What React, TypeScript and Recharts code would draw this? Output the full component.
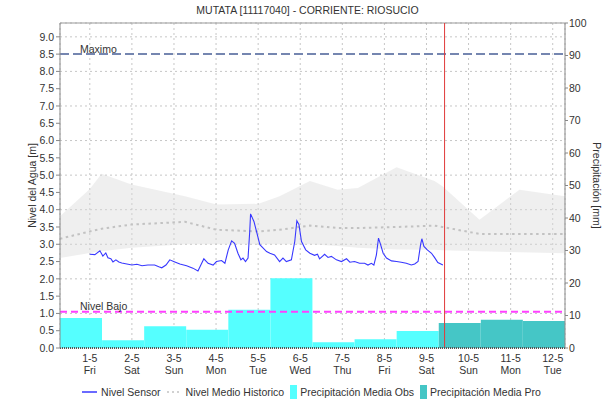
import React from "react";
import {
  ComposedChart,
  Area,
  Line,
  Bar,
  XAxis,
  YAxis,
  CartesianGrid,
  ReferenceLine,
  Legend,
} from "recharts";

const FONT = '"Liberation Sans", Arial, sans-serif';
const TXT = "#333";

// eje de tiempo en dias desde 1-5 00:00 (ventana 30-4 07:00 -> 12-5 07:00)
const T_START = -17 / 24;
const T_END = 11 + 7 / 24;
const AHORA = 8.43;

const dayTicks = [0, 1, 2, 3, 4, 5, 6, 7, 8, 9, 10, 11];
const dayLabels = ["1-5", "2-5", "3-5", "4-5", "5-5", "6-5", "7-5", "8-5", "9-5", "10-5", "11-5", "12-5"];
const weekDays = ["Fri", "Sat", "Sun", "Mon", "Tue", "Wed", "Thu", "Fri", "Sat", "Sun", "Mon", "Tue"];

const levelTicks = [0, 0.5, 1, 1.5, 2, 2.5, 3, 3.5, 4, 4.5, 5, 5.5, 6, 6.5, 7, 7.5, 8, 8.5, 9];
const rainTicks = [0, 10, 20, 30, 40, 50, 60, 70, 80, 90, 100];

const NIVEL_MAXIMO = 8.5;
const NIVEL_BAJO = 1.05;

// precipitacion diaria (mm)
const rainDays = ["30-4", "1-5", "2-5", "3-5", "4-5", "5-5", "6-5", "7-5", "8-5", "9-5", "10-5", "11-5"];
const rainObs = [9.2, 2.4, 6.7, 5.6, 11.8, 21.5, 1.8, 2.7, 5.2, null, null, null];
const rainPro = [null, null, null, null, null, null, null, null, null, 7.7, 8.7, 8.3];

// nivel sensor (m)
const sensorT = [
  0.0, 0.12, 0.24, 0.31, 0.38, 0.43, 0.5, 0.55, 0.62, 0.69, 0.76, 0.88, 1.0, 1.12, 1.24, 1.38,
  1.54, 1.64, 1.71, 1.81, 1.9, 2.02, 2.14, 2.3, 2.45, 2.57, 2.71, 2.81, 2.93, 3.01, 3.13, 3.21,
  3.29, 3.37, 3.44, 3.52, 3.59, 3.64, 3.7, 3.76, 3.8, 3.82, 3.9, 3.97, 4.04, 4.12, 4.2, 4.28,
  4.39, 4.51, 4.59, 4.67, 4.79, 4.87, 4.92, 4.97, 5.03, 5.13, 5.23, 5.34, 5.41, 5.46, 5.58, 5.66,
  5.74, 5.86, 5.98, 6.1, 6.18, 6.29, 6.41, 6.53, 6.61, 6.69, 6.75, 6.81, 6.86, 6.91, 6.97, 7.05,
  7.17, 7.29, 7.4, 7.52, 7.64, 7.72, 7.8, 7.86, 7.89, 7.94, 8.02, 8.12, 8.19, 8.27, 8.39,
];
const sensorLevel = [
  2.71, 2.7, 2.81, 2.66, 2.75, 2.61, 2.58, 2.49, 2.55, 2.49, 2.46, 2.43, 2.4, 2.42, 2.38, 2.4,
  2.4, 2.35, 2.32, 2.4, 2.55, 2.49, 2.43, 2.38, 2.31, 2.23, 2.58, 2.45, 2.4, 2.5, 2.53, 2.45,
  2.84, 3.1, 3.03, 2.74, 2.55, 2.6, 2.5, 2.6, 3.37, 3.88, 3.66, 3.33, 2.99, 2.89, 2.79, 2.74,
  2.69, 2.5, 2.6, 2.5, 2.55, 3.08, 3.68, 3.57, 3.08, 2.84, 2.74, 2.68, 2.71, 2.58, 2.71, 2.62,
  2.65, 2.55, 2.5, 2.58, 2.48, 2.5, 2.45, 2.45, 2.4, 2.45, 2.4, 2.69, 3.18, 2.99, 2.74, 2.6,
  2.52, 2.5, 2.48, 2.45, 2.4, 2.43, 2.5, 2.99, 3.16, 2.94, 2.84, 2.74, 2.62, 2.47, 2.4,
];

// historico: rango y medio (m)
const histT = [-0.71, 0.0, 0.28, 0.99, 2.26, 3.01, 4.01, 4.51, 5.23, 5.89, 6.37, 7.29, 8.19, 8.38, 9.26, 10.21, 11.29];
const histLow = [2.6, 2.75, 2.8, 2.9, 3.0, 3.0, 3.0, 3.0, 3.0, 2.95, 2.9, 2.85, 2.84, 2.83, 2.8, 2.77, 2.74];
const histHigh = [3.81, 4.6, 5.04, 4.73, 4.39, 4.15, 4.17, 4.39, 4.83, 4.58, 4.63, 5.23, 4.83, 4.68, 3.71, 4.58, 4.39];
const histMean = [3.16, 3.37, 3.45, 3.57, 3.65, 3.42, 3.37, 3.42, 3.54, 3.47, 3.47, 3.5, 3.54, 3.5, 3.3, 3.3, 3.3];

const rainData = rainDays.map((d, i) => ({ d, obs: rainObs[i], pro: rainPro[i] }));
const sensorData = sensorT.map((t, i) => ({ t, v: sensorLevel[i] }));
const histData = histT.map((t, i) => ({ t, range: [histLow[i], histHigh[i]], mean: histMean[i] }));

const COL_SENSOR = "#3838ff";
const COL_MEDIO = "#c2c2c2";
const COL_OBS = "#55ffff";
const COL_PRO = "#45c6c6";

function DayTick(props: any) {
  const { x, y, payload } = props;
  const i = payload.value;
  return (
    <text x={x} y={y} textAnchor="middle" fontSize={10.5} fill={TXT}>
      <tspan x={x} dy={8.5}>{dayLabels[i]}</tspan>
      <tspan x={x} dy={12.5}>{weekDays[i]}</tspan>
    </text>
  );
}

function AxisTitle(props: any) {
  const { viewBox, text, side } = props;
  const vb = viewBox || {};
  const cy = (vb.y ?? 23) + (vb.height ?? 325) / 2;
  const cx = side === "left" ? 32 : 597;
  return (
    <text
      x={cx}
      y={cy}
      textAnchor="middle"
      dominantBaseline="central"
      fontSize={10.5}
      fill={TXT}
      transform={`rotate(${side === "left" ? -90 : 90} ${cx} ${cy})`}
    >
      {text}
    </text>
  );
}

function LineLabel(props: any) {
  const { viewBox, text } = props;
  const vb = viewBox || {};
  return (
    <text x={(vb.x ?? 60) + 20} y={(vb.y ?? 0) - 1.5} fontSize={10.5} fill={TXT}>
      {text}
    </text>
  );
}

function LegendBox() {
  const item = { display: "flex", alignItems: "center", marginRight: 6 } as const;
  return (
    <div
      style={{
        height: 16,
        lineHeight: "16px",
        display: "flex",
        justifyContent: "center",
        fontSize: 10.5,
        color: TXT,
        fontFamily: FONT,
        paddingLeft: 14,
      }}
    >
      <span style={item}>
        <svg width={15} height={4} style={{ marginRight: 4 }}>
          <line x1={0} y1={2} x2={15} y2={2} stroke={COL_SENSOR} strokeWidth={1.5} />
        </svg>
        Nivel Sensor
      </span>
      <span style={item}>
        <svg width={15} height={4} style={{ marginRight: 4 }}>
          <line x1={0} y1={2} x2={15} y2={2} stroke={COL_MEDIO} strokeWidth={1.5} strokeDasharray="2 3" />
        </svg>
        Nivel Medio Historico
      </span>
      <span style={item}>
        <span style={{ width: 7, height: 14, background: COL_OBS, marginRight: 3 }} />
        Precipitación Media Obs
      </span>
      <span style={item}>
        <span style={{ width: 7, height: 14, background: COL_PRO, marginRight: 3 }} />
        Precipitación Media Pro
      </span>
    </div>
  );
}

export default function App() {
  return (
    <div style={{ position: "relative", width: 615, height: 401, fontFamily: FONT, background: "#fff" }}>
      <style>{"body{margin:0}"}</style>
      <div
        style={{
          position: "absolute",
          top: 4,
          left: 0,
          width: 615,
          textAlign: "center",
          fontSize: 10.5,
          color: TXT,
        }}
      >
        MUTATA [11117040] - CORRIENTE: RIOSUCIO
      </div>
      <ComposedChart
        width={615}
        height={401}
        data={rainData}
        margin={{ top: 23, right: 0, bottom: 1, left: 0 }}
        barCategoryGap={0}
        barGap={0}
      >
        <CartesianGrid xAxisId="time" yAxisId="left" stroke="#c6c6c6" strokeDasharray="2 3" />
        <XAxis
          xAxisId="time"
          dataKey="t"
          type="number"
          domain={[T_START, T_END]}
          allowDataOverflow
          ticks={dayTicks}
          tick={<DayTick />}
          tickLine={false}
          tickSize={3}
          tickMargin={2}
          height={36}
          axisLine={{ stroke: "#555", strokeWidth: 2, strokeDasharray: "1 1" }}
        />
        <XAxis xAxisId="bars" dataKey="d" type="category" hide height={0} />
        <YAxis
          yAxisId="left"
          domain={[0, 9.4]}
          ticks={levelTicks}
          tickFormatter={(v: number) => v.toFixed(1)}
          width={60}
          tickSize={4}
          tickMargin={2}
          tick={{ fontSize: 10.5, fill: TXT }}
          stroke="#888"
          label={<AxisTitle text="Nivel del Agua [m]" side="left" />}
        />
        <YAxis
          yAxisId="right"
          orientation="right"
          domain={[0, 100]}
          ticks={rainTicks}
          width={50}
          tickSize={3}
          tickMargin={1}
          tick={{ fontSize: 10.5, fill: TXT }}
          stroke="#888"
          label={<AxisTitle text="Precipitación [mm]" side="right" />}
        />
        <Area
          xAxisId="time"
          yAxisId="left"
          data={histData}
          dataKey="range"
          type="linear"
          stroke="none"
          fill="#d9d9d9"
          fillOpacity={0.42}
          isAnimationActive={false}
          legendType="none"
        />
        <Bar xAxisId="bars" yAxisId="right" dataKey="obs" stackId="p" fill={COL_OBS} isAnimationActive={false} />
        <Bar xAxisId="bars" yAxisId="right" dataKey="pro" stackId="p" fill={COL_PRO} isAnimationActive={false} />
        <Line
          xAxisId="time"
          yAxisId="left"
          data={histData}
          dataKey="mean"
          type="linear"
          stroke={COL_MEDIO}
          strokeWidth={2}
          strokeDasharray="2.5 3.5"
          dot={false}
          isAnimationActive={false}
        />
        <Line
          xAxisId="time"
          yAxisId="left"
          data={sensorData}
          dataKey="v"
          type="linear"
          stroke={COL_SENSOR}
          strokeWidth={1.1}
          dot={false}
          isAnimationActive={false}
        />
        <ReferenceLine xAxisId="time" yAxisId="left" y={9.4} stroke="#999" />
        <ReferenceLine
          xAxisId="time"
          yAxisId="left"
          y={NIVEL_MAXIMO}
          stroke="#7586b0"
          strokeWidth={2}
          strokeDasharray="9 4"
          label={<LineLabel text="Maximo" />}
        />
        <ReferenceLine
          xAxisId="time"
          yAxisId="left"
          y={NIVEL_BAJO}
          stroke="#ff40ff"
          strokeWidth={2}
          strokeDasharray="7 4"
          label={<LineLabel text="Nivel Bajo" />}
        />
        <ReferenceLine xAxisId="time" yAxisId="left" x={AHORA} stroke="#e03a3a" strokeWidth={1} />
        <Legend verticalAlign="bottom" content={<LegendBox />} />
      </ComposedChart>
    </div>
  );
}
